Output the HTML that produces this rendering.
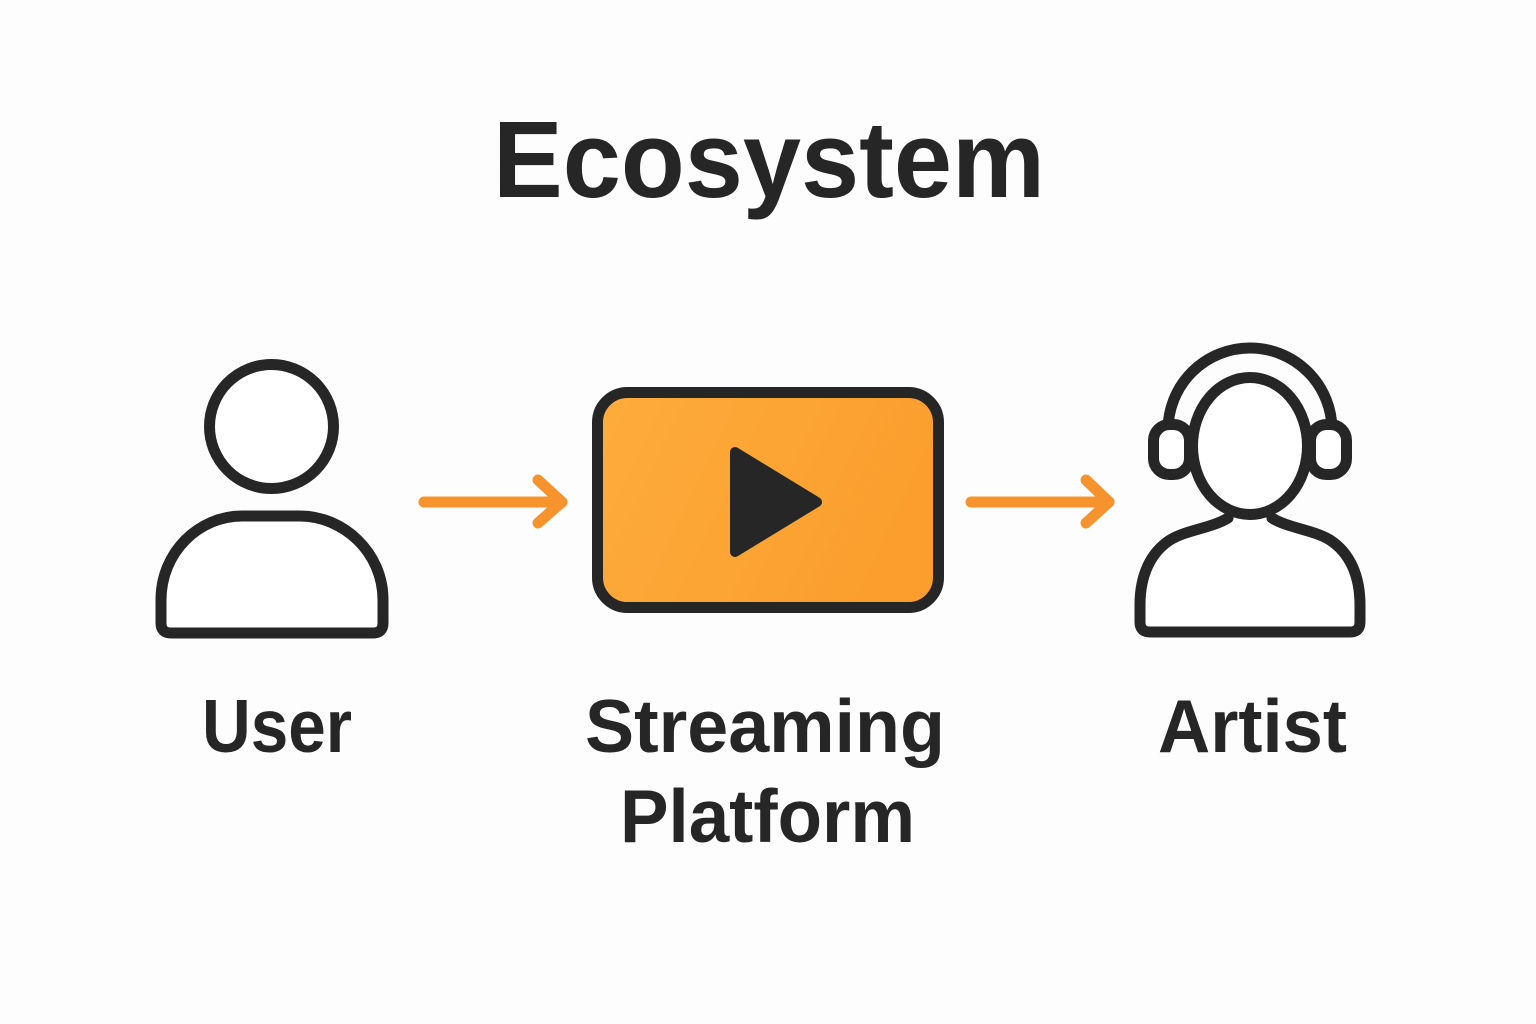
<!DOCTYPE html>
<html>
<head>
<meta charset="utf-8">
<style>
  html, body { margin: 0; padding: 0; background: #fdfdfd; }
  body { width: 1536px; height: 1024px; overflow: hidden; }
  svg { display: block; }
  text { font-family: "Liberation Sans", sans-serif; font-weight: bold; fill: #262626; }
</style>
</head>
<body>
<svg width="1536" height="1024" viewBox="0 0 1536 1024" xmlns="http://www.w3.org/2000/svg">
  <defs>
    <linearGradient id="og" x1="0" y1="0" x2="1" y2="0.3">
      <stop offset="0" stop-color="#FDAC3C"/>
      <stop offset="1" stop-color="#FB9E2E"/>
    </linearGradient>
  </defs>
  <rect width="1536" height="1024" fill="#fdfdfd"/>

  <!-- Title -->
  <text x="493" y="197" font-size="109" textLength="552" lengthAdjust="spacingAndGlyphs">Ecosystem</text>

  <!-- User icon -->
  <g fill="#ffffff" stroke="#262626" stroke-width="11" stroke-linejoin="round">
    <circle cx="271.5" cy="426.5" r="62"/>
    <path d="M171 633 L373 633 Q383 633 383 623 L383 600 C383 552 343 516 300 516 L242 516 C199 516 161 552 161 600 L161 623 Q161 633 171 633 Z"/>
  </g>

  <!-- Arrow 1 -->
  <g fill="none" stroke="#F7932C" stroke-width="11" stroke-linecap="round" stroke-linejoin="round">
    <line x1="424" y1="502" x2="562" y2="502"/>
    <polyline points="538,480 562,502 538,523"/>
  </g>

  <!-- Streaming box -->
  <rect x="597.5" y="392.5" width="341" height="215" rx="30" fill="url(#og)" stroke="#262626" stroke-width="11"/>
  <polygon points="735,452 817,502 735,552" fill="#262626" stroke="#262626" stroke-width="10" stroke-linejoin="round"/>

  <!-- Arrow 2 -->
  <g fill="none" stroke="#F7932C" stroke-width="11" stroke-linecap="round" stroke-linejoin="round">
    <line x1="971" y1="502" x2="1109" y2="502"/>
    <polyline points="1086,480 1109,502 1086,523"/>
  </g>

  <!-- Artist icon -->
  <g fill="#ffffff" stroke="#262626" stroke-width="11" stroke-linejoin="round" stroke-linecap="round">
    <!-- headband -->
    <path d="M1168 430 A82 82 0 0 1 1332 430" fill="none"/>
    <!-- earcups -->
    <rect x="1153.5" y="424.5" width="36" height="50" rx="16"/>
    <rect x="1310.5" y="424.5" width="36" height="50" rx="16"/>
    <!-- body -->
    <path d="M1228 518 C1212 528 1186 530 1170 540 C1150 553 1140 576 1140 605 L1140 622 Q1140 632 1150 632 L1350 632 Q1360 632 1360 622 L1360 605 C1360 576 1350 553 1330 540 C1314 530 1288 528 1272 518"/>
    <!-- head -->
    <ellipse cx="1250" cy="446" rx="57.5" ry="68.5"/>
  </g>

  <!-- Labels -->
  <text x="202" y="752" font-size="75" textLength="150" lengthAdjust="spacingAndGlyphs">User</text>
  <text x="585" y="752" font-size="75" textLength="360" lengthAdjust="spacingAndGlyphs">Streaming</text>
  <text x="620" y="842" font-size="75" textLength="295" lengthAdjust="spacingAndGlyphs">Platform</text>
  <text x="1158" y="752" font-size="75" textLength="189" lengthAdjust="spacingAndGlyphs">Artist</text>
</svg>
</body>
</html>
